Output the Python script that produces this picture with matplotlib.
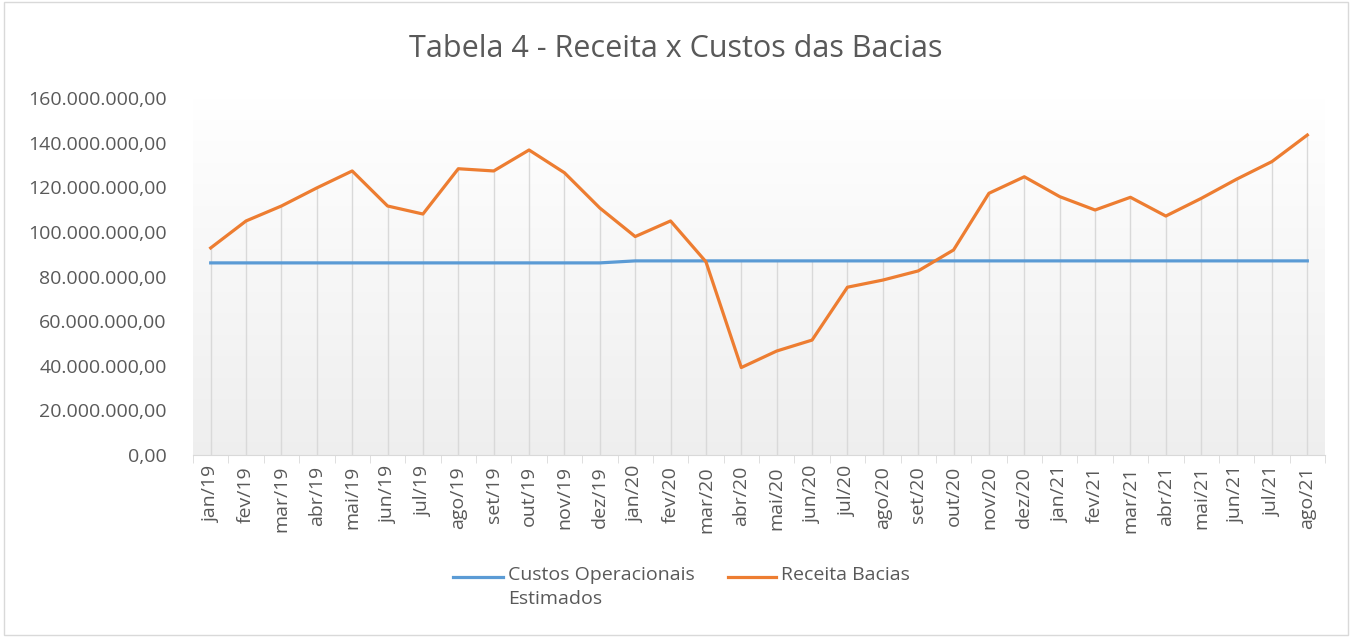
import numpy as np
import matplotlib
matplotlib.use("Agg")
import matplotlib.pyplot as plt
from matplotlib.patches import Rectangle
from matplotlib.lines import Line2D

# ======================
# Daten
# ======================
meses = ["jan/19", "fev/19", "mar/19", "abr/19", "mai/19", "jun/19", "jul/19", "ago/19",
         "set/19", "out/19", "nov/19", "dez/19", "jan/20", "fev/20", "mar/20", "abr/20",
         "mai/20", "jun/20", "jul/20", "ago/20", "set/20", "out/20", "nov/20", "dez/20",
         "jan/21", "fev/21", "mar/21", "abr/21", "mai/21", "jun/21", "jul/21", "ago/21"]

custos = [86.1e6] * 12 + [87.0e6] * 20

receita = [92.8e6, 104.9e6, 111.6e6, 119.7e6, 127.3e6, 111.6e6, 108.0e6, 128.3e6,
           127.3e6, 136.7e6, 126.5e6, 110.7e6, 97.9e6, 104.9e6, 86.6e6, 39.2e6,
           46.6e6, 51.5e6, 75.2e6, 78.4e6, 82.5e6, 91.9e6, 117.3e6, 124.7e6,
           115.8e6, 109.8e6, 115.5e6, 107.1e6, 115.0e6, 123.6e6, 131.5e6, 143.4e6]

y_ticks = np.arange(0, 160e6 + 1, 20e6)

texto = "#595959"
grade = "#d9d9d9"
azul = "#5b9bd5"
laranja = "#ed7d31"

plt.rcParams["font.family"] = ["Open Sans", "DejaVu Sans"]

fig = plt.figure(figsize=(13.52, 6.37), dpi=100)
W, H = 1352, 637
ax = fig.add_axes([193 / W, 1 - 455 / H, (1325 - 193) / W, (455 - 98) / H])

x = np.arange(len(meses))

# Hintergrund mit Verlauf
verlauf = np.linspace(1.0, 0.935, 256).reshape(-1, 1)
ax.imshow(np.dstack([verlauf, verlauf, verlauf]), extent=[-0.5, len(meses) - 0.5, 0, 160e6],
          aspect="auto", origin="upper", zorder=0)

# Fallinien
topo = np.maximum(custos, receita)
ax.vlines(x, 0, topo, color=grade, lw=1.0, zorder=1)

ax.plot(x, custos, color=azul, lw=2.3, zorder=3)
ax.plot(x, receita, color=laranja, lw=2.3, zorder=3)

ax.set_xlim(-0.5, len(meses) - 0.5)
ax.set_ylim(0, 160e6)

ax.set_yticks(y_ticks)
ax.set_yticklabels([f"{v:,.2f}".replace(",", "X").replace(".", ",").replace("X", ".") for v in y_ticks],
                   fontsize=14, color=texto)
ax.tick_params(axis="y", length=0, pad=19)

ax.set_xticks(x)
ax.set_xticklabels(meses, rotation=90, fontsize=14, color=texto)
ax.tick_params(axis="x", length=0, pad=8)
ax.set_xticks(np.arange(-0.5, len(meses), 1), minor=True)
ax.tick_params(axis="x", which="minor", length=6, color=grade, direction="out")

for s in ["top", "right", "left"]:
    ax.spines[s].set_visible(False)
ax.spines["bottom"].set_color(grade)

fig.text(0.5, 1 - 49 / H, "Tabela 4 - Receita x Custos das Bacias", ha="center", va="center",
         fontsize=22, color=texto)

# Legende (Excel-Stil: Linie auf Höhe der ersten Textzeile)
for x0, x1, cor, rotulo in [(453, 503, azul, "Custos Operacionais\nEstimados"),
                            (728, 776, laranja, "Receita Bacias")]:
    fig.add_artist(Line2D([x0 / W, x1 / W], [1 - 577 / H] * 2, color=cor, lw=2.3,
                          transform=fig.transFigure))
    fig.text((x1 + 5) / W, 1 - 566 / H, rotulo, ha="left", va="top", fontsize=14,
             color=texto, linespacing=1.45)

fig.patches.append(Rectangle((0.003, 0.003), 0.994, 0.994, transform=fig.transFigure,
                             fill=False, edgecolor=grade, lw=1))

fig.savefig("out.png", dpi=100)
